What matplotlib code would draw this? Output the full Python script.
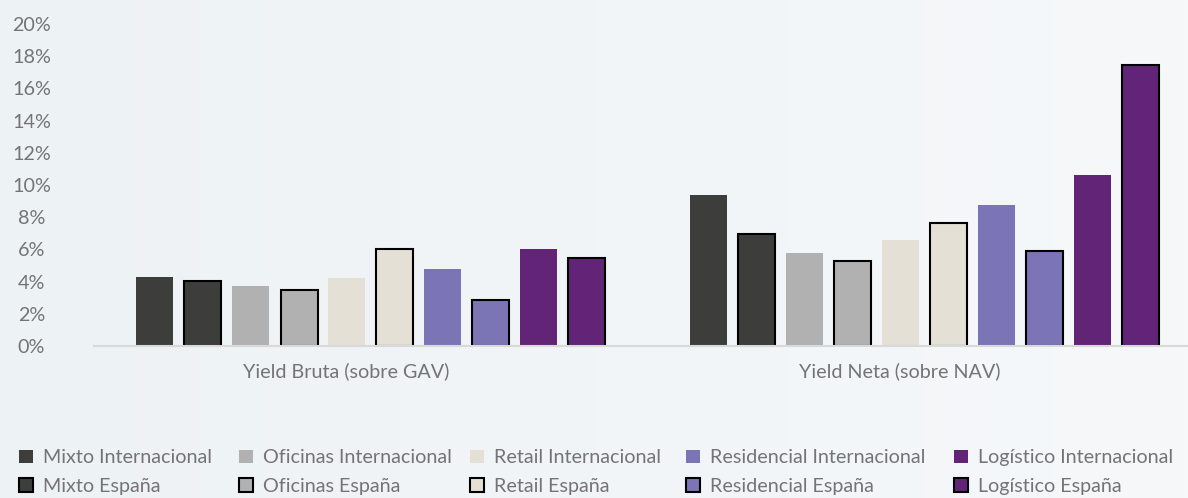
import numpy as np
import matplotlib.pyplot as plt
from matplotlib.colors import LinearSegmentedColormap

plt.rcParams['font.family'] = ['Lato', 'DejaVu Sans']

# ===== DADOS =====
grupos = ['Yield Bruta (sobre GAV)', 'Yield Neta (sobre NAV)']
series = ['Mixto Internacional', 'Mixto España',
          'Oficinas Internacional', 'Oficinas España',
          'Retail Internacional', 'Retail España',
          'Residencial Internacional', 'Residencial España',
          'Logístico Internacional', 'Logístico España']
yield_bruta = [4.3, 4.05, 3.75, 3.45, 4.2, 6.05, 4.8, 2.85, 6.05, 5.45]
yield_neta = [9.35, 6.95, 5.8, 5.25, 6.6, 7.65, 8.75, 5.9, 10.6, 17.45]
yticks = [0, 2, 4, 6, 8, 10, 12, 14, 16, 18, 20]

# ===== ESTILO =====
cores = ['#3d3d3b', '#3d3d3b', '#b1b1b1', '#b1b1b1', '#e4e0d6', '#e4e0d6',
         '#7b75b6', '#7b75b6', '#622476', '#622476']
cor_texto = '#747474'
W, H = 1188, 498
cat_px = 554.0      # largura de uma categoria em px
passo = 48.0 / cat_px
largura = 37.0 / cat_px
fs = 14.2

fig = plt.figure(figsize=(W / 100, H / 100), dpi=100)

# fundo em degradê
bg = fig.add_axes([0, 0, 1, 1], zorder=-10)
cmap = LinearSegmentedColormap.from_list('bg', ['#edf2f5', '#f6f8fa'])
bg.imshow(np.linspace(0, 1, 256)[None, :], aspect='auto', cmap=cmap,
          extent=[0, 1, 0, 1])
bg.axis('off')

left = 94 / W
ax = fig.add_axes([left, 152 / H, 1 - left, 322 / H])
ax.patch.set_alpha(0)

valores = np.array([yield_bruta, yield_neta])  # (grupo, serie)
x_grupo = np.arange(len(grupos))
handles = []
for i, nome in enumerate(series):
    espana = 'España' in nome
    b = ax.bar(x_grupo + (i - 4.5) * passo, valores[:, i], width=largura,
               color=cores[i], edgecolor='black' if espana else 'none',
               linewidth=1.5 if espana else 0, label=nome, zorder=3)
    handles.append(b)

ax.set_xlim(-0.5, -0.5 + (W - 94) / cat_px)
ax.set_ylim(0, 20)

ax.set_yticks(yticks)
ax.set_yticklabels([f'{v}%' for v in yticks])
ax.tick_params(axis='y', length=0, pad=45, labelsize=fs, labelcolor=cor_texto)
for lab in ax.get_yticklabels():
    lab.set_horizontalalignment('center')

# rótulos das categorias ficam um pouco à esquerda do centro do grupo
ax.set_xticks(x_grupo - 25 / cat_px)
ax.set_xticklabels(grupos)
ax.tick_params(axis='x', length=0, pad=12, labelsize=fs, labelcolor=cor_texto)

for s in ['top', 'right', 'left']:
    ax.spines[s].set_visible(False)
ax.spines['bottom'].set_color('#d9d9d9')
ax.spines['bottom'].set_linewidth(1.5)
ax.spines['bottom'].set_zorder(4)

# legenda: uma coluna por tipo (Internacional em cima, España embaixo)
col_x = [19, 239, 470, 686, 954]
for j, x0 in enumerate(col_x):
    leg = fig.legend(handles=handles[2 * j:2 * j + 2],
                     labels=series[2 * j:2 * j + 2], ncol=1, loc='upper left',
                     bbox_to_anchor=(x0 / W, 0.098), frameon=False,
                     borderaxespad=0, fontsize=fs, handlelength=0.7,
                     handleheight=0.68, handletextpad=0.5, labelspacing=0.6,
                     borderpad=0)
    for t in leg.get_texts():
        t.set_color(cor_texto)

fig.savefig('out.png', dpi=100, facecolor='#f1f5f7')
